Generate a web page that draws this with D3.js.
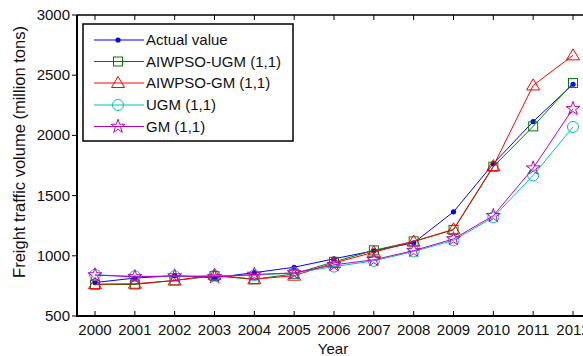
<!DOCTYPE html>
<html><head><meta charset="utf-8">
<script src="https://cdn.jsdelivr.net/npm/d3@7"></script>
<style>body{margin:0;background:#fff}svg{display:block}text{font-family:"Liberation Sans",Arial,sans-serif}</style>
</head><body>
<svg id="c" width="583" height="356"></svg>
<script>
const years = [2000,2001,2002,2003,2004,2005,2006,2007,2008,2009,2010,2011,2012];
const actual = [778,815,835,818,860,905,975,1042,1108,1365,1765,2115,2425];
const aiwpsoUgm = [760,762,795,832,805,850,950,1045,1120,1215,1740,2075,2435];
const aiwpsoGm = [765,768,795,842,805,835,940,1030,1118,1220,1745,2415,2665];
const ugm = [842,830,830,835,838,858,910,958,1036,1128,1320,1668,2070];
const gm = [840,825,832,825,845,858,925,967,1043,1140,1333,1728,2222];
const yTicks = [500,1000,1500,2000,2500,3000];
const seriesNames = ["Actual value","AIWPSO-UGM (1,1)","AIWPSO-GM (1,1)","UGM (1,1)","GM (1,1)"];

const svg = d3.select("#c");
const L = 77, R = 590, T = 15, B = 316;
const x = d3.scaleLinear().domain([2000,2012]).range([95,573]);
const y = d3.scaleLinear().domain([500,3000]).range([B,T]);

const series = [
  {name:seriesNames[0], vals:actual, color:"#0000ff", marker:"dot"},
  {name:seriesNames[1], vals:aiwpsoUgm, color:"#008000", marker:"square"},
  {name:seriesNames[2], vals:aiwpsoGm, color:"#ff0000", marker:"triangle"},
  {name:seriesNames[3], vals:ugm, color:"#00bfbf", marker:"circle"},
  {name:seriesNames[4], vals:gm, color:"#bf00bf", marker:"star"}
];

function drawMarker(g, type, cx, cy, color){
  if(type==="dot") g.append("circle").attr("cx",cx).attr("cy",cy).attr("r",2.6).attr("fill",color);
  else if(type==="square") g.append("rect").attr("x",cx-4.5).attr("y",cy-4.5).attr("width",9).attr("height",9).attr("fill","none").attr("stroke",color).attr("stroke-width",1);
  else if(type==="triangle") g.append("path").attr("d",`M${cx},${cy-6.5}L${cx+6.5},${cy+4.5}L${cx-6.5},${cy+4.5}Z`).attr("fill","none").attr("stroke",color).attr("stroke-width",1);
  else if(type==="circle") g.append("circle").attr("cx",cx).attr("cy",cy).attr("r",5.5).attr("fill","none").attr("stroke",color).attr("stroke-width",1);
  else if(type==="star") g.append("path").attr("d",d3.symbol().type(d3.symbolStar).size(60)()).attr("transform",`translate(${cx},${cy})`).attr("fill","none").attr("stroke",color).attr("stroke-width",1);
}

const plot = svg.append("g");
const line = d3.line().x((d,i)=>x(years[i])).y(d=>y(d));
series.forEach(s=>{
  const g = plot.append("g");
  g.append("path").attr("d",line(s.vals)).attr("fill","none").attr("stroke",s.color).attr("stroke-width",1);
  s.vals.forEach((v,i)=>drawMarker(g,s.marker,x(years[i]),y(v),s.color));
});

// axes
const ax = svg.append("g");
ax.append("line").attr("x1",L).attr("x2",R).attr("y1",B).attr("y2",B).attr("stroke","#000").attr("stroke-width",2);
ax.append("line").attr("x1",L).attr("x2",R).attr("y1",T).attr("y2",T).attr("stroke","#000").attr("stroke-width",1.5);
ax.append("line").attr("x1",L).attr("x2",L).attr("y1",T).attr("y2",B+1).attr("stroke","#000").attr("stroke-width",2);
years.forEach(yr=>{
  const xp = x(yr);
  ax.append("line").attr("x1",xp).attr("x2",xp).attr("y1",B).attr("y2",B-5).attr("stroke","#000").attr("stroke-width",1);
  ax.append("line").attr("x1",xp).attr("x2",xp).attr("y1",T).attr("y2",T+5).attr("stroke","#000").attr("stroke-width",1);
  ax.append("text").attr("x",xp).attr("y",335).attr("text-anchor","middle").attr("font-size",15).attr("fill","#111").text(yr);
});
yTicks.forEach(v=>{
  const yp = y(v);
  ax.append("line").attr("x1",L-5).attr("x2",L).attr("y1",yp).attr("y2",yp).attr("stroke","#000").attr("stroke-width",1);
  ax.append("text").attr("x",70).attr("y",yp+5).attr("text-anchor","end").attr("font-size",15).attr("fill","#111").text(v);
});
ax.append("text").attr("x",333).attr("y",354).attr("text-anchor","middle").attr("font-size",15).attr("fill","#111").text("Year");
ax.append("text").attr("transform","translate(25,152) rotate(-90)").attr("text-anchor","middle").attr("font-size",16.5).attr("fill","#111").text("Freight traffic volume (million tons)");

// legend
const lg = svg.append("g");
lg.append("rect").attr("x",83).attr("y",24).attr("width",210).attr("height",117).attr("fill","#fff").attr("stroke","#000").attr("stroke-width",1.5);
const ly = [40,61.5,83,105,126.5];
series.forEach((s,i)=>{
  lg.append("line").attr("x1",94).attr("x2",144).attr("y1",ly[i]).attr("y2",ly[i]).attr("stroke",s.color).attr("stroke-width",1);
  drawMarker(lg,s.marker,118,ly[i],s.color);
  lg.append("text").attr("x",146).attr("y",ly[i]+5).attr("font-size",15).attr("fill","#111").text(s.name);
});
</script>
</body></html>
